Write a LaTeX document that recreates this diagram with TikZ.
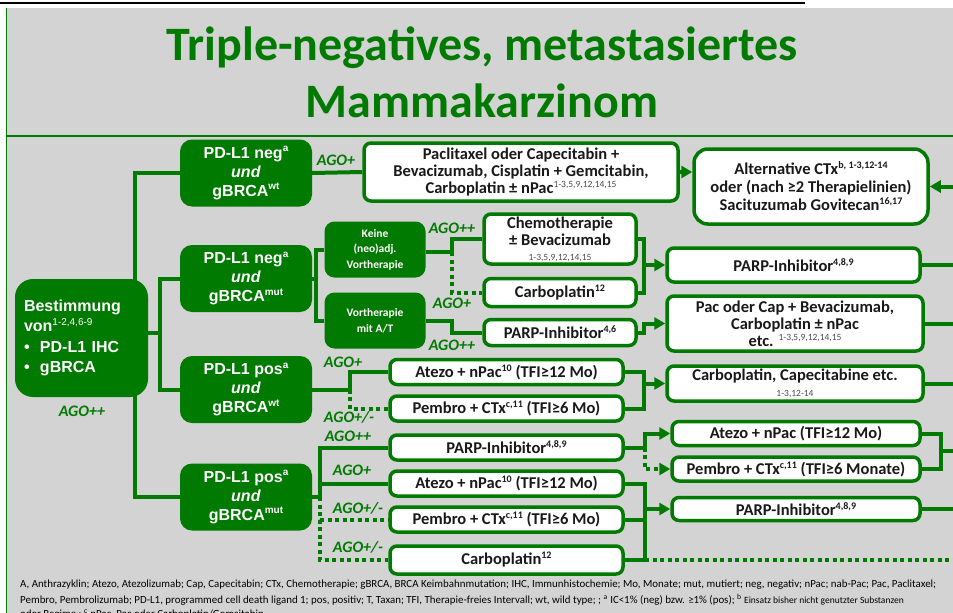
\documentclass[tikz,border=0pt]{standalone}
\usepackage{fontspec}
\setmainfont{Carlito}
\newfontfamily\arialfont{Liberation Sans}
\usetikzlibrary{arrows.meta}
\definecolor{agogreen}{RGB}{0,122,0}
\definecolor{slidegray}{RGB}{211,211,211}
\definecolor{inktext}{RGB}{25,25,25}
\newcommand{\hi}[1]{\raisebox{0.75ex}{\fontsize{10}{10}\selectfont #1}}
\newcommand{\lit}[1]{{\fontsize{9.5}{10}\selectfont\mdseries\color{black!70}#1}}
\newcommand{\lithi}[1]{\raisebox{0.75ex}{\lit{#1}}}

\begin{document}
\begin{tikzpicture}
        [
            x = 1pt, y = -1pt,
            pdbox/.style = {draw=none, fill=agogreen, rounded corners=12pt, text=white, align=center, inner sep=0pt, minimum width=132pt, minimum height=67pt, font=\arialfont\bfseries\fontsize{16}{19}\selectfont},
            smallbox/.style = {draw=none, fill=agogreen, rounded corners=10pt, text=white, align=center, inner sep=0pt, minimum width=101pt, minimum height=56pt, font=\bfseries\fontsize{11.5}{15.5}\selectfont},
            thbox/.style = {draw=agogreen, line width=3.5pt, fill=white, rounded corners=7pt, text=inktext, align=center, inner sep=0pt, font=\bfseries\fontsize{16.5}{17}\selectfont},
            ago/.style = {text=agogreen, inner sep=0pt, font=\bfseries\itshape\fontsize{16}{16}\selectfont},
            foot/.style = {anchor=base west, inner sep=0pt, font=\fontsize{10.9}{12}\selectfont},
            conn/.style = {draw=agogreen, line width=4pt},
            dotconn/.style = {conn, dash pattern=on 4pt off 3.5pt},
            arr/.style = {conn, -{Triangle[length=11pt,width=12pt]}},
            dotarr/.style = {dotconn, -{Triangle[length=11pt,width=12pt]}}
        ]
        \useasboundingbox (0,0) rectangle (953,613);
        \clip (0,0) rectangle (953,613);
        % slide frame
        \fill[slidegray] (6,8) rectangle (960,620);
        \draw[agogreen, line width=1pt] (6,8) -- (6,613);
        \draw[agogreen, line width=1.2pt] (6,136) -- (953,136);
        \draw[black, line width=2pt] (0,2.5) -- (805,2.5);
        \node[text=agogreen, align=center, font=\bfseries\fontsize{48}{57}\selectfont] (title) at (482,72) {Triple-negatives, metastasiertes\\Mammakarzinom};

        % left column
        \node[pdbox, rounded corners=18pt, minimum width=133pt, minimum height=118pt, text width=115pt, align=left, font=\arialfont\bfseries\fontsize{16}{20.5}\selectfont] (best) at (81.5,338) {Bestimmung\\von{\mdseries\hi{1-2,4,6-9}}\\\makebox[16pt][l]{•}PD-L1 IHC\\\makebox[16pt][l]{•}gBRCA};
        \node[ago] (agobest) at (82,411) {AGO++};
        \node[pdbox] (negwt) at (246,173) {PD-L1 neg\hi{a}\\\textit{und}\\gBRCA\hi{wt}};
        \node[pdbox] (negmut) at (246,278.5) {PD-L1 neg\hi{a}\\\textit{und}\\gBRCA\hi{mut}};
        \node[pdbox] (poswt) at (246,389.5) {PD-L1 pos\hi{a}\\\textit{und}\\gBRCA\hi{wt}};
        \node[pdbox] (posmut) at (246,497) {PD-L1 pos\hi{a}\\\textit{und}\\gBRCA\hi{mut}};
        \node[smallbox] (keine) at (375,249.5) {Keine\\(neo)adj.\\Vortherapie};
        \node[smallbox] (vorth) at (375,320.5) {Vortherapie\\mit A/T};

        % therapy boxes
        \node[thbox, minimum width=314pt, minimum height=58pt] (paclit) at (521,172) {Paclitaxel oder Capecitabin +\\Bevacizumab, Cisplatin + Gemcitabin,\\Carboplatin ± nPac\lithi{1-3,5,9,12,14,15}};
        \node[thbox, rounded corners=14pt, minimum width=234pt, minimum height=75pt, font=\bfseries\fontsize{16.5}{18}\selectfont] (altctx) at (811,186.5) {Alternative CTx\hi{b, 1-3,12-14}\\oder (nach ≥2 Therapielinien)\\Sacituzumab Govitecan\hi{16,17}};
        \node[thbox, minimum width=152pt, minimum height=50pt] (chemo) at (560,239) {Chemotherapie\\± Bevacizumab\\[-2pt]\lit{1-3,5,9,12,14,15}};
        \node[thbox, minimum width=152pt, minimum height=28pt] (carboA) at (560,292.5) {Carboplatin\hi{12}};
        \node[thbox, minimum width=152pt, minimum height=26pt] (parpA) at (560,332.5) {PARP-Inhibitor\hi{4,6}};
        \node[thbox, minimum width=253pt, minimum height=34pt] (parpB) at (793.5,265) {PARP-Inhibitor\hi{4,8,9}};
        \node[thbox, minimum width=256pt, minimum height=55pt] (pacbev) at (795,323.5) {Pac oder Cap + Bevacizumab,\\Carboplatin ± nPac\\etc. \lithi{1-3,5,9,12,14,15}};
        \node[thbox, minimum width=233pt, minimum height=25pt] (atezoA) at (506.5,372) {Atezo + nPac\hi{10} (TFI≥12 Mo)};
        \node[thbox, minimum width=233pt, minimum height=25pt] (pembroA) at (506.5,408.5) {Pembro + CTx\hi{c,11} (TFI≥6 Mo)};
        \node[thbox, minimum width=256pt, minimum height=35pt] (carbocap) at (795,383.5) {Carboplatin, Capecitabine etc.\\[-1pt]\lit{1-3,12-14}};
        \node[thbox, minimum width=233pt, minimum height=25pt] (parpC) at (506.5,447.5) {PARP-Inhibitor\hi{4,8,9}};
        \node[thbox, minimum width=233pt, minimum height=25pt] (atezoB) at (506.5,483.5) {Atezo + nPac\hi{10} (TFI≥12 Mo)};
        \node[thbox, minimum width=233pt, minimum height=25pt] (pembroB) at (506.5,519.5) {Pembro + CTx\hi{c,11} (TFI≥6 Mo)};
        \node[thbox, minimum width=233pt, minimum height=28pt] (carboB) at (506.5,560) {Carboplatin\hi{12}};
        \node[thbox, minimum width=248pt, minimum height=24pt] (atezoC) at (796,433.5) {Atezo + nPac (TFI≥12 Mo)};
        \node[thbox, minimum width=248pt, minimum height=24pt] (pembroC) at (796,469) {Pembro + CTx\hi{c,11} (TFI≥6 Monate)};
        \node[thbox, minimum width=248pt, minimum height=23pt] (parpD) at (796,509) {PARP-Inhibitor\hi{4,8,9}};

        % AGO labels
        \node[ago] at (336,160) {AGO+};
        \node[ago] at (452,228) {AGO++};
        \node[ago] at (452,303) {AGO+};
        \node[ago] at (452,345) {AGO++};
        \node[ago] at (343,362) {AGO+};
        \node[ago] at (349,417) {AGO+/-};
        \node[ago] at (348,436) {AGO++};
        \node[ago] at (352,470) {AGO+};
        \node[ago] at (358,508) {AGO+/-};
        \node[ago] at (358,547) {AGO+/-};

        % connectors
        \coordinate (tr1) at (135,338);
        \coordinate (tr2) at (160,333);
        \coordinate (tr3) at (316,278.5);
        \coordinate (kj) at (452,252);
        \coordinate (pj) at (350,389.5);
        \coordinate (mj) at (320,497);
        \coordinate (jA) at (644,265);
        \coordinate (jB) at (644,383.5);
        \coordinate (jC) at (645,447.5);
        \coordinate (jD) at (645,509);
        \coordinate (jE) at (941,451);
        \coordinate (rim) at (962,0);
        \draw[conn] (negwt.west) -| (tr1) |- (posmut.west);
        \draw[conn] (best.east |- tr2) -- (tr2);
        \draw[conn] (negmut.west) -| (tr2) |- (poswt.west);
        \draw[conn] (negwt.east) -- (paclit.west);
        \draw[arr] (paclit.east) -- (altctx.west |- paclit.east);
        \draw[conn] (negmut.east) -- (tr3);
        \draw[conn] (keine.west) -| (tr3) |- (vorth.west);
        \draw[conn] (keine.east |- kj) -- (kj) |- (chemo.west);
        \draw[dotconn] (kj) |- (carboA.west);
        \draw[conn] (vorth.east) -- (vorth.east -| kj) |- (parpA.west);
        \draw[conn] (chemo.east) -| (jA) |- (carboA.east);
        \draw[arr] (jA) -- (parpB.west);
        \draw[arr] (parpA.east) -- (parpA.east -| jA) |- (pacbev.west);
        \draw[conn] (poswt.east) -- (pj) |- (atezoA.west);
        \draw[dotconn] (pj) |- (pembroA.west);
        \draw[conn] (atezoA.east) -| (jB) |- (pembroA.east);
        \draw[arr] (jB) -- (carbocap.west);
        \draw[conn] (posmut.east) -- (mj);
        \draw[conn] (parpC.west) -| (mj);
        \draw[conn] (mj |- atezoB.west) -- (atezoB.west);
        \draw[dotconn] (mj) |- (pembroB.west);
        \draw[dotconn] (mj) |- (carboB.west);
        \draw[arr] (parpC.east) -- (jC) |- (atezoC.west);
        \draw[dotarr] (jC) |- (pembroC.west);
        \draw[conn] (atezoB.east) -| (jD) |- (carboB.east);
        \draw[conn] (pembroB.east) -- (pembroB.east -| jD);
        \draw[arr] (jD) -- (parpD.west);
        \draw[dotconn] (carboB.east -| jD) -- (carboB.east -| rim);
        \draw[conn] (parpB.east) -- (parpB.east -| rim);
        \draw[conn] (pacbev.east) -- (pacbev.east -| rim);
        \draw[conn] (carbocap.east) -- (carbocap.east -| rim);
        \draw[conn] (atezoC.east) -| (jE) |- (pembroC.east);
        \draw[conn] (jE) -- (jE -| rim);
        \draw[conn] (parpD.east) -- (parpD.east -| rim);
        \draw[arr] (altctx.east -| rim) -- (altctx.east);

        % footnote
        \node[foot] (fnA) at (20,587) {A, Anthrazyklin; Atezo, Atezolizumab; Cap, Capecitabin; CTx, Chemotherapie; gBRCA, BRCA Keimbahnmutation; IHC, Immunhistochemie; Mo, Monate; mut, mutiert; neg, negativ; nPac; nab-Pac; Pac, Paclitaxel;};
        \node[foot] (fnB) at (20,603) {Pembro, Pembrolizumab; PD-L1, programmed cell death ligand 1; pos, positiv; T, Taxan; TFI, Therapie-freies Intervall; wt, wild type; ; \textsuperscript{a} IC<1\% (neg) bzw. ≥1\% (pos); \textsuperscript{b} {\fontsize{9.5}{11}\selectfont Einsatz bisher nicht genutzter Substanzen}};
        \node[foot] (fnC) at (20,617) {oder Regime ; \textsuperscript{c} nPac, Pac oder Carboplatin/Gemcitabin};
    \end{tikzpicture}
\end{document}
